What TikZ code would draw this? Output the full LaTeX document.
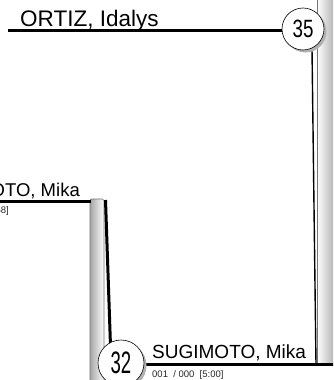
\documentclass[tikz,border=0pt]{standalone}
\usepackage{fontspec}
\setmainfont{Liberation Sans}
\begin{document}
\begin{tikzpicture}[x=1pt,y=-1pt,
  heavy/.style={line width=3pt},
  seedball/.style={circle,draw=black,line width=0.6pt,fill=white,inner sep=0pt},
  ballshadow/.style={fill=black!30},
  namelabel/.style={inner sep=0pt,font=\fontsize{22.5}{24}\selectfont},
  smalllabel/.style={inner sep=0pt,font=\fontsize{9.5}{11}\selectfont,text=black!85}
]
\useasboundingbox (0,0) rectangle (333,380);
\clip (0,0) rectangle (333,380);
% right gradient bar
\shade[left color=white,right color=black!30] (317,-2) rectangle (334,364);
\draw[black!55,line width=0.6pt] (317,-2) -- (317,364);
% left gradient bar
\shade[left color=black!35,right color=white] (90,199) rectangle (104,382);
\draw[black!55,line width=0.6pt,rounded corners=1.5pt] (90,382) -- (90,199) -- (104,199) -- (104,382);
% connectors
\coordinate (topL) at (8,30.5);
\coordinate (midL) at (-5,201);
\coordinate (midR) at (91,201);
\coordinate (barTop) at (105.5,200);
\coordinate (barBot) at (110.5,346);
\coordinate (rightTop) at (312,49);
\coordinate (rightBot) at (316,364);
\coordinate (botL) at (140,364.5);
\coordinate (botR) at (340,364.5);
\draw[heavy] (topL) -- (290,30.5);
\draw[line width=1.4pt] (rightTop) -- (rightBot);
\draw[heavy] (midL) -- (midR);
\draw[heavy] (barTop) -- (barBot);
\draw[heavy] (botL) -- (botR);
% circle 35
\fill[ballshadow] (305.5,31.5) circle (21);
\node[seedball,minimum size=42pt] (b35) at (303,29) {\fontsize{25}{25}\selectfont\scalebox{0.75}[1]{35}};
% circle 32
\fill[ballshadow] (123.5,365.5) circle (23);
\node[seedball,minimum size=46pt] (b32) at (121,363) {\fontsize{31}{31}\selectfont\scalebox{0.6}[1]{32}};
% texts
\node[namelabel,anchor=base west] (t1) at (20,26.5) {ORTIZ, Idalys};
\node[namelabel,anchor=base east,font=\fontsize{18.5}{22}\selectfont] (t2) at (80,196) {SUGIMOTO, Mika};
\node[smalllabel,anchor=base east] (t3) at (9,213.5) {001 / 000 [4:58]};
\node[namelabel,anchor=base west,font=\fontsize{19}{22}\selectfont] (t4) at (152,358) {SUGIMOTO, Mika};
\node[smalllabel,anchor=base west] (t5) at (152,377) {001~ / 000~ [5:00]};
\end{tikzpicture}
\end{document}
